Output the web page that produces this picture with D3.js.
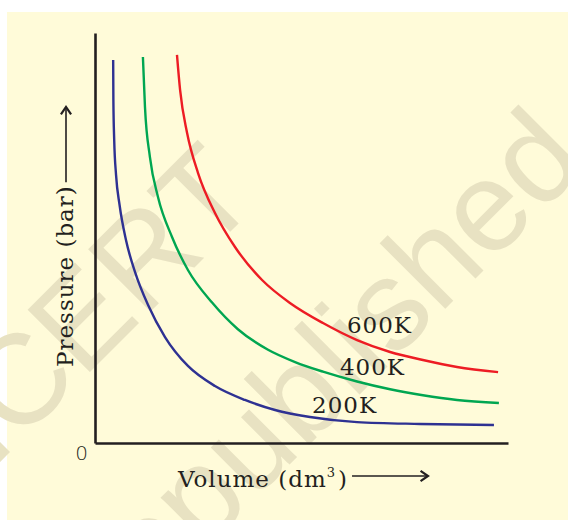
<!DOCTYPE html>
<html>
<head>
<meta charset="utf-8">
<script src="https://cdn.jsdelivr.net/npm/d3@7"></script>
<style>
  body { margin: 0; background: #fff; }
  svg { display: block; }
</style>
</head>
<body>
<div id="chart"></div>
<script>
// isotherm points (volume, pressure in arbitrary units, 0..20 on each axis)
const series = ["200K", "400K", "600K"];
const colors = ["#2e3192", "#00a651", "#ed1c24"];

const vol200 = [0.88, 0.89, 0.93, 1.02, 1.19, 1.50, 1.94, 2.57, 3.39, 4.50, 5.81, 7.26, 8.72, 10.41, 12.69, 15.74, 19.32];
const pres200 = [18.68, 16.73, 14.78, 13.07, 11.61, 9.90, 8.34, 6.73, 5.17, 3.76, 2.78, 2.10, 1.61, 1.27, 1.02, 0.93, 0.88];

const vol400 = [2.32, 2.42, 2.66, 3.05, 3.73, 4.50, 5.67, 6.92, 8.38, 9.69, 11.04, 12.69, 14.29, 15.88, 17.53, 19.56];
const pres400 = [18.83, 16.39, 13.95, 12.00, 10.05, 8.44, 6.85, 5.55, 4.55, 3.95, 3.48, 3.00, 2.62, 2.33, 2.10, 1.95];

const vol600 = [3.97, 4.12, 4.46, 4.99, 5.81, 6.78, 8.09, 9.44, 11.04, 12.69, 14.29, 15.88, 17.53, 19.52];
const pres600 = [18.93, 17.22, 15.12, 13.17, 11.22, 9.56, 7.95, 6.83, 5.85, 5.02, 4.44, 4.05, 3.71, 3.46];

// label anchor points (volume, pressure)
const labelVol = [10.51, 11.86, 12.2];
const labelPres = [1.46, 3.32, 5.37];

const width = 568, height = 520;

const svg = d3.select("#chart").append("svg")
    .attr("width", width)
    .attr("height", height);

// pale yellow page with a white strip top and left
svg.append("rect")
    .attr("x", 7).attr("y", 12)
    .attr("width", width - 7).attr("height", height - 12)
    .attr("fill", "#fffbd9");

// faint watermark
const wm = svg.append("g")
    .attr("fill", "#e8e2c2")
    .style("font-family", "'Liberation Sans', Arial, sans-serif")
    .style("font-size", "128px");
wm.append("text")
    .attr("transform", "translate(262,200) rotate(-45)")
    .attr("text-anchor", "end")
    .text("© NCERT");
wm.append("text")
    .attr("transform", "translate(122,632) rotate(-45)")
    .text("republished");

const x = d3.scaleLinear().domain([0, 20]).range([95, 508]);
const y = d3.scaleLinear().domain([0, 20]).range([443, 33]);

const axisColor = "#231f20";

svg.append("g")
    .attr("transform", `translate(0,${y(0)})`)
    .call(d3.axisBottom(x).tickValues([]).tickSizeOuter(0));
svg.append("g")
    .attr("transform", `translate(${x(0)},0)`)
    .call(d3.axisLeft(y).tickValues([]).tickSizeOuter(0));
svg.selectAll(".domain")
    .attr("stroke", axisColor)
    .attr("stroke-width", 2.6);

const line = d3.line()
    .x(d => x(d[0]))
    .y(d => y(d[1]))
    .curve(d3.curveMonotoneX);

const curves = [
    d3.zip(vol200, pres200),
    d3.zip(vol400, pres400),
    d3.zip(vol600, pres600)
];

svg.selectAll(".iso")
    .data(curves)
    .enter()
    .append("path")
    .attr("class", "iso")
    .attr("d", line)
    .attr("fill", "none")
    .attr("stroke", (d, i) => colors[i])
    .attr("stroke-width", 2.4);

const serif = "'DejaVu Serif', 'Liberation Serif', serif";

svg.selectAll(".lbl")
    .data(series)
    .enter()
    .append("text")
    .attr("class", "lbl")
    .attr("x", (d, i) => x(labelVol[i]))
    .attr("y", (d, i) => y(labelPres[i]))
    .style("font-family", serif)
    .style("font-size", "23px")
    .style("letter-spacing", "1px")
    .attr("fill", axisColor)
    .text(d => d);

// origin
svg.append("text")
    .attr("x", x(0) - 7)
    .attr("y", 460)
    .attr("text-anchor", "end")
    .style("font-family", "'DejaVu Sans', sans-serif")
    .style("font-size", "20px")
    .style("font-weight", 200)
    .attr("fill", axisColor)
    .text("0");

// arrow helper
function arrow(x1, y1, x2, y2) {
    svg.append("line")
        .attr("x1", x1).attr("y1", y1)
        .attr("x2", x2).attr("y2", y2)
        .attr("stroke", axisColor)
        .attr("stroke-width", 1.6);
    const a = Math.atan2(y2 - y1, x2 - x1);
    const s = 9;
    const p = [
        [x2 - s * Math.cos(a - 0.6), y2 - s * Math.sin(a - 0.6)],
        [x2, y2],
        [x2 - s * Math.cos(a + 0.6), y2 - s * Math.sin(a + 0.6)]
    ];
    svg.append("polyline")
        .attr("points", p.map(d => d.join(",")).join(" "))
        .attr("fill", "none")
        .attr("stroke", axisColor)
        .attr("stroke-width", 2.2);
}

// x label
const xl = svg.append("text")
    .attr("x", 178)
    .attr("y", 487)
    .style("font-family", serif)
    .style("font-size", "23px")
    .style("letter-spacing", "1px")
    .attr("fill", axisColor);
xl.append("tspan").text("Volume (dm");
xl.append("tspan").attr("dy", -10).style("font-size", "13px").text("3");
xl.append("tspan").attr("dy", 10).attr("dx", 2).text(")");
const xlEnd = 178 + xl.node().getComputedTextLength() + 2;
arrow(xlEnd + 4, 476, 428, 476);

// y label
const yl = svg.append("text")
    .attr("transform", "translate(73,367) rotate(-90)")
    .style("font-family", serif)
    .style("font-size", "23px")
    .style("letter-spacing", "1px")
    .attr("fill", axisColor)
    .text("Pressure (bar)");
const ylEnd = 367 - yl.node().getComputedTextLength();
arrow(66, ylEnd - 3, 66, 107);
</script>
</body>
</html>
